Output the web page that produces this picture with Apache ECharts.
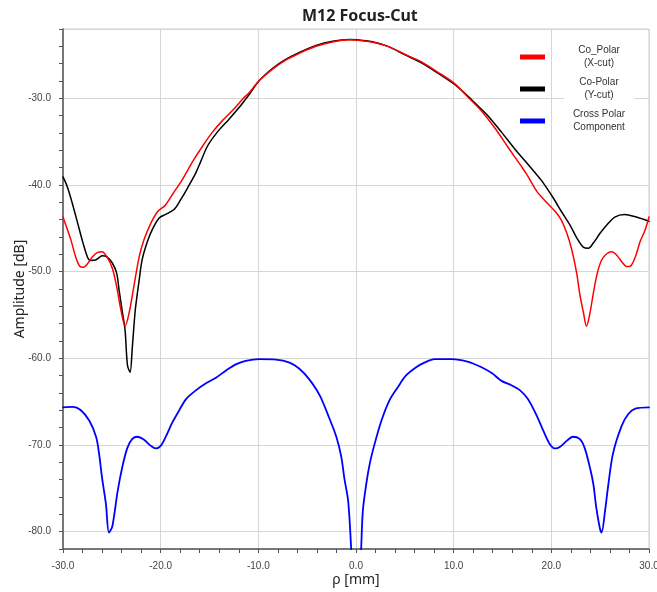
<!DOCTYPE html>
<html>
<head>
<meta charset="utf-8">
<title>M12 Focus-Cut</title>
<script src="https://cdn.jsdelivr.net/npm/echarts@6/dist/echarts.min.js"></script>
<style>
  html, body { margin: 0; padding: 0; background: #fff; }
  #chart { width: 657px; height: 592px; }
</style>
</head>
<body>
<div id="chart"></div>
<script>
// Co-polar cut along X (rho in mm, amplitude in dB)
const xcutRho = [-30.0, -29.66, -29.2, -28.7, -28.3, -27.95, -27.5, -27.0, -26.5, -26.0, -25.5, -24.95, -24.5, -24.1, -23.64, -23.2, -22.7, -22.2, -21.7, -21.0, -20.3, -19.5, -18.8, -17.8, -16.7, -15.7, -14.7, -13.7, -12.6, -11.6, -10.9, -9.9, -8.5, -7.2, -5.8, -4.1, -2.4, -0.7, 0.2, 1.56, 3.26, 4.97, 6.7, 8.4, 10.1, 11.5, 12.8, 14.2, 15.6, 16.9, 17.5, 18.5, 19.5, 20.4, 21.0, 21.6, 22.1, 22.6, 22.9, 23.3, 23.6, 23.95, 24.3, 24.7, 25.15, 25.7, 26.2, 26.7, 27.2, 27.7, 28.1, 28.6, 29.1, 29.6, 30.0];
const xcutDb  = [-43.7, -44.8, -46.3, -48.3, -49.35, -49.5, -49.1, -48.3, -47.8, -47.7, -48.3, -49.6, -51.75, -54.25, -56.3, -54.6, -51.4, -48.3, -46.3, -44.4, -43.05, -42.3, -41.1, -39.4, -37.25, -35.5, -33.9, -32.6, -31.35, -30.08, -29.3, -27.95, -26.6, -25.6, -24.8, -24.0, -23.5, -23.25, -23.3, -23.5, -24.0, -24.9, -25.8, -27.0, -28.3, -29.9, -31.4, -33.4, -35.7, -37.8, -38.8, -40.7, -42.0, -43.05, -44.0, -45.6, -47.5, -50.2, -52.5, -54.8, -56.3, -54.8, -52.5, -50.2, -48.65, -47.9, -47.7, -48.1, -48.85, -49.4, -49.35, -48.3, -46.5, -45.2, -43.7];

// Co-polar cut along Y
const ycutRho = [-30.0, -29.56, -29.05, -28.5, -28.0, -27.5, -27.2, -26.65, -25.97, -25.5, -24.95, -24.5, -24.26, -23.9, -23.64, -23.4, -23.13, -22.9, -22.6, -22.2, -21.9, -21.35, -20.8, -20.15, -19.5, -18.6, -17.9, -17.25, -16.4, -15.9, -15.2, -14.2, -13.0, -11.95, -10.9, -9.9, -8.5, -7.2, -5.8, -4.1, -2.4, -0.7, 0.2, 1.56, 3.26, 4.97, 6.7, 8.4, 10.1, 11.5, 12.5, 13.5, 14.9, 16.3, 17.6, 19.0, 20.2, 21.0, 21.9, 22.6, 23.3, 23.8, 24.3, 24.97, 25.7, 26.5, 27.5, 28.7, 30.0];
const ycutDb  = [-39.07, -40.2, -42.1, -44.4, -46.5, -48.3, -48.7, -48.65, -48.15, -48.3, -49.0, -50.2, -52.1, -54.8, -56.8, -60.8, -61.6, -58.7, -54.45, -50.97, -48.65, -46.5, -45.0, -43.8, -43.4, -42.8, -41.6, -40.35, -38.6, -37.3, -35.5, -33.9, -32.4, -31.04, -29.5, -27.95, -26.5, -25.5, -24.7, -23.9, -23.4, -23.2, -23.25, -23.45, -24.0, -24.95, -25.9, -27.1, -28.4, -29.8, -30.9, -32.0, -33.9, -35.9, -37.6, -39.5, -41.5, -43.0, -44.6, -46.1, -47.2, -47.3, -46.7, -45.6, -44.6, -43.7, -43.4, -43.7, -44.2];

// Cross-polar component
const crossRho = [-30.0, -29.0, -28.2, -27.3, -26.6, -26.3, -26.0, -25.6, -25.3, -24.95, -24.4, -23.9, -23.4, -22.9, -22.4, -21.7, -21.0, -20.5, -20.0, -19.5, -18.8, -18.1, -17.4, -16.4, -15.4, -14.3, -13.3, -12.3, -11.3, -9.9, -8.2, -6.8, -5.8, -4.8, -3.7, -2.7, -2.0, -1.5, -1.2, -0.8, -0.5, 0.0, 0.53, 0.7, 1.05, 1.4, 1.9, 2.6, 3.4, 4.3, 5.1, 6.2, 7.0, 8.05, 9.8, 11.5, 12.8, 13.9, 14.9, 15.9, 16.8, 17.6, 18.5, 19.2, 19.85, 20.4, 20.9, 21.6, 22.2, 22.9, 23.4, 23.95, 24.3, 24.6, 24.97, 25.15, 25.5, 25.8, 26.3, 27.2, 27.9, 28.6, 30.0];
const crossDb  = [-65.65, -65.6, -65.96, -67.2, -69.1, -71.05, -73.8, -76.85, -80.1, -79.4, -75.3, -72.4, -70.3, -69.3, -69.05, -69.4, -70.1, -70.4, -70.1, -69.1, -67.4, -66.0, -64.7, -63.7, -62.9, -62.2, -61.4, -60.7, -60.3, -60.1, -60.15, -60.5, -61.2, -62.4, -64.3, -67.0, -69.1, -71.4, -73.8, -76.5, -81.9, -95.0, -81.9, -77.6, -74.5, -72.2, -69.9, -67.2, -64.9, -63.3, -62.0, -61.0, -60.5, -60.1, -60.1, -60.4, -61.0, -61.7, -62.6, -63.1, -63.7, -64.7, -66.6, -68.4, -69.9, -70.4, -70.2, -69.5, -69.05, -69.3, -70.3, -72.6, -74.5, -77.2, -79.6, -80.1, -77.6, -74.9, -71.05, -67.8, -66.4, -65.8, -65.65];

const seriesNames = ['Co_Polar (X-cut)', 'Co-Polar (Y-cut)', 'Cross Polar Component'];
const legendLines = [['Co_Polar', '(X-cut)'], ['Co-Polar', '(Y-cut)'], ['Cross Polar', 'Component']];

const zip = (xs, ys) => xs.map((x, i) => [x, ys[i]]);
const tickFmt = v => Number(v).toFixed(1);

const chart = echarts.init(document.getElementById('chart'), null, { renderer: 'canvas' });

const axisCommon = {
  axisLine: { show: true, onZero: false, lineStyle: { color: '#555', width: 1.5 } },
  axisTick: { show: true, length: 4, lineStyle: { color: '#555', width: 1 } },
  minorTick: { show: true, splitNumber: 5, length: 4, lineStyle: { color: '#555', width: 1 } },
  splitLine: { show: true, lineStyle: { color: '#d6d6d6', width: 1 } },
  axisLabel: { color: '#444', fontSize: 10, fontFamily: 'Liberation Sans', formatter: tickFmt },
  nameLocation: 'middle',
  nameMoveOverlap: false,
  nameTextStyle: { color: '#222', fontSize: 14, fontFamily: 'Noto Sans' }
};

// shared look of the three curves
const curve = (name, xs, ys, color, width, z) => ({
  name, type: 'line', z,
  data: zip(xs, ys),
  showSymbol: false, smooth: 0.3, clip: true,
  lineStyle: { color, width, join: 'round', cap: 'round' },
  itemStyle: { color }
});

chart.setOption({
  animation: false,
  backgroundColor: '#fff',
  title: {
    text: 'M12 Focus-Cut',
    left: 297,
    top: 3,
    textStyle: { fontFamily: 'Noto Sans', fontWeight: 'bold', fontSize: 16, color: '#222' }
  },
  grid: {
    left: 63, right: 8, top: 29, bottom: 43,
    outerBoundsMode: 'none',
    containLabel: false,
    show: true, borderColor: '#cfcfcf', borderWidth: 1, backgroundColor: 'transparent'
  },
  legend: {
    orient: 'vertical',
    left: 515,
    top: 39,
    itemWidth: 25,
    itemHeight: 5,
    itemGap: 6,
    icon: 'rect',
    data: seriesNames,
    formatter: name => {
      const lines = legendLines[seriesNames.indexOf(name)];
      return lines.map(t => '{s| }{a|' + t + '}').join('\n');
    },
    textStyle: {
      fontFamily: 'Liberation Sans', fontSize: 10, color: '#333', lineHeight: 13,
      rich: {
        s: { width: 14, fontSize: 10, lineHeight: 13 },
        a: { width: 70, align: 'center', backgroundColor: '#fff', fontFamily: 'Liberation Sans',
             fontSize: 10, lineHeight: 13, color: '#333' }
      }
    }
  },
  xAxis: Object.assign({}, axisCommon, {
    type: 'value',
    min: -30, max: 30, interval: 10,
    name: 'ρ [mm]',
    nameGap: 24,
    axisLabel: Object.assign({}, axisCommon.axisLabel, { margin: 12 })
  }),
  yAxis: Object.assign({}, axisCommon, {
    type: 'value',
    min: -82, max: -22, splitNumber: 6,
    name: 'Amplitude [dB]',
    nameGap: 36,
    axisLabel: Object.assign({}, axisCommon.axisLabel, { margin: 12, showMinLabel: false, showMaxLabel: false })
  }),
  series: [
    curve(seriesNames[0], xcutRho, xcutDb, '#ff0000', 1.5, 4),
    curve(seriesNames[1], ycutRho, ycutDb, '#000000', 1.5, 3),
    curve(seriesNames[2], crossRho, crossDb, '#0000ff', 1.8, 2)
  ]
});
</script>
</body>
</html>
